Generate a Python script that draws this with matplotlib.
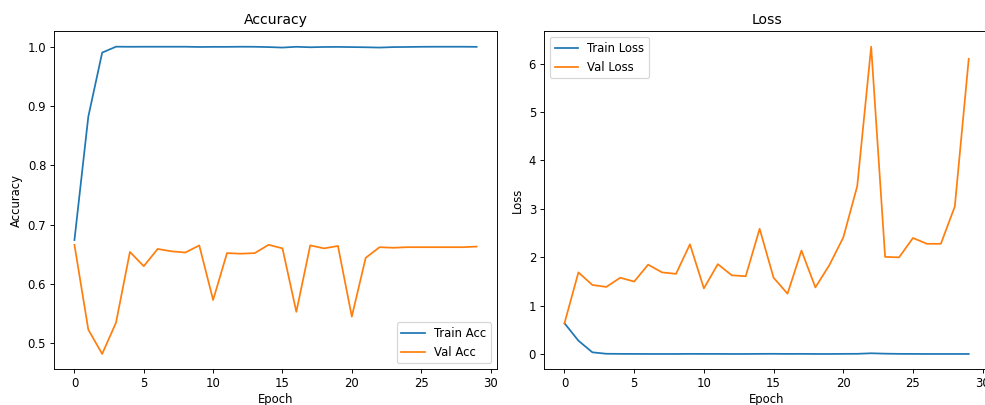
import matplotlib
matplotlib.use("Agg")
import matplotlib.pyplot as plt

# Valeurs (30 epochs)
epochs = list(range(30))

train_acc = [0.674, 0.882, 0.990, 1.000, 0.9998, 0.9999, 0.9999, 0.9999, 0.9999, 0.9995,
             0.9997, 0.9997, 0.9999, 0.9998, 0.9993, 0.9985, 0.9998, 0.9990, 0.9995, 0.9996,
             0.9993, 0.9990, 0.9985, 0.9993, 0.9995, 0.9998, 0.9999, 0.9999, 0.9999, 0.9997]
val_acc = [0.666, 0.523, 0.482, 0.535, 0.654, 0.630, 0.659, 0.655, 0.653, 0.665,
           0.573, 0.652, 0.651, 0.652, 0.666, 0.660, 0.553, 0.665, 0.660, 0.664,
           0.545, 0.644, 0.662, 0.661, 0.662, 0.662, 0.662, 0.662, 0.662, 0.663]

train_loss = [0.64, 0.28, 0.04, 0.01, 0.008, 0.007, 0.006, 0.006, 0.006, 0.008,
              0.007, 0.007, 0.006, 0.006, 0.008, 0.009, 0.007, 0.008, 0.006, 0.006,
              0.008, 0.009, 0.02, 0.012, 0.008, 0.007, 0.006, 0.006, 0.006, 0.006]
val_loss = [0.64, 1.69, 1.43, 1.39, 1.58, 1.50, 1.85, 1.69, 1.66, 2.27,
            1.36, 1.86, 1.63, 1.61, 2.59, 1.58, 1.25, 2.14, 1.38, 1.84,
            2.41, 3.47, 6.35, 2.01, 2.00, 2.40, 2.28, 2.28, 3.05, 6.10]

dpi = 84
fig = plt.figure(figsize=(986 / dpi, 405 / dpi), dpi=dpi)
ax1 = fig.add_axes([0.0551, 0.0881, 0.4487, 0.8346])
ax2 = fig.add_axes([0.5520, 0.0881, 0.4510, 0.8346])

# Accuracy
ax1.plot(epochs, train_acc, label="Train Acc")
ax1.plot(epochs, val_acc, label="Val Acc")
ax1.set_title("Accuracy")
ax1.set_xlabel("Epoch", labelpad=2.5)
ax1.set_ylabel("Accuracy")
ax1.legend(loc="lower right")

# Loss
ax2.plot(epochs, train_loss, label="Train Loss")
ax2.plot(epochs, val_loss, label="Val Loss")
ax2.set_title("Loss")
ax2.set_xlabel("Epoch", labelpad=2.5)
ax2.set_ylabel("Loss")
ax2.legend(loc="upper left")

fig.savefig("out.png", dpi=dpi)
plt.close(fig)
